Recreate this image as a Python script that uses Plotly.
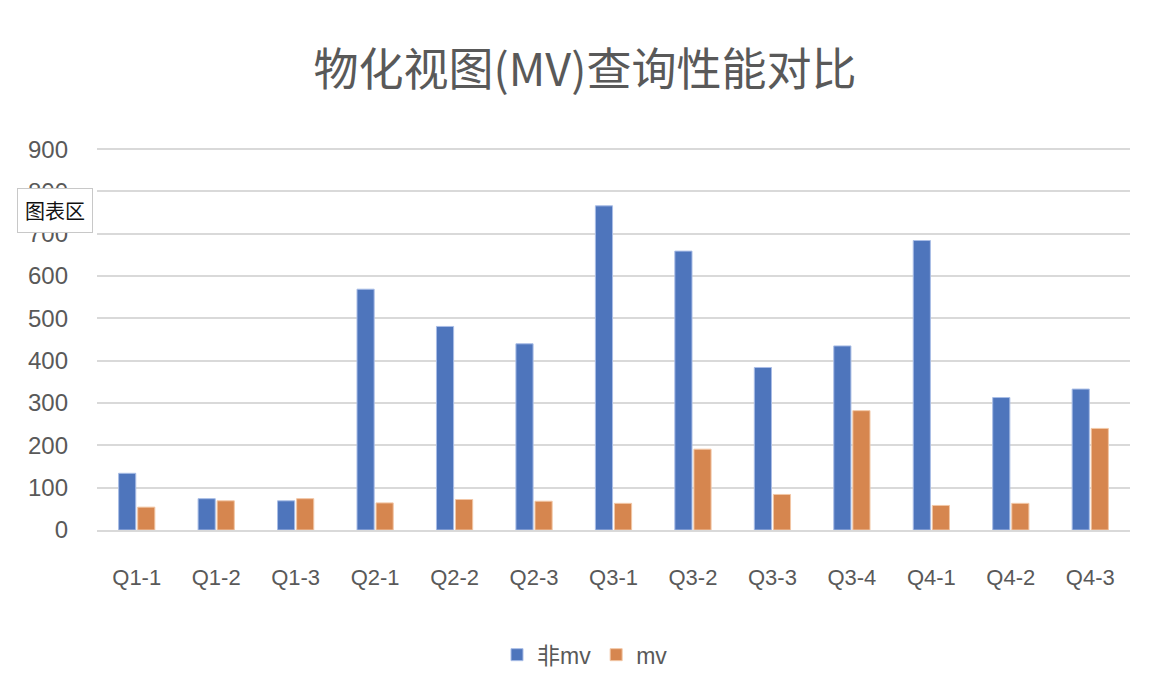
import plotly.graph_objects as go

categories = ["Q1-1", "Q1-2", "Q1-3", "Q2-1", "Q2-2", "Q2-3", "Q3-1", "Q3-2", "Q3-3", "Q3-4", "Q4-1", "Q4-2", "Q4-3"]
non_mv = [134, 74, 69, 569, 481, 440, 766, 659, 384, 435, 684, 313, 333]
mv = [54, 69, 74, 64, 72, 68, 63, 191, 84, 282, 58, 63, 240]
y_ticks = [0, 100, 200, 300, 400, 500, 600, 700, 800, 900]

font_family = "Liberation Sans, Noto Sans CJK SC, sans-serif"
grey = "#595959"

fig = go.Figure()
fig.add_trace(go.Bar(x=categories, y=non_mv, name="非mv",
                     marker=dict(color="#4E75BC", line=dict(color="#A9BDE6", width=1))))
fig.add_trace(go.Bar(x=categories, y=mv, name="mv",
                     marker=dict(color="#D6864F", line=dict(color="#F2C7A6", width=1))))

fig.update_layout(
    width=1170, height=682,
    paper_bgcolor="white", plot_bgcolor="white",
    margin=dict(l=97, r=40, t=147, b=152),
    barmode="group", bargap=0.52, bargroupgap=0.1,
    font=dict(family=font_family, color=grey),
    title=dict(text="物化视图(MV)查询性能对比", x=0.5, xref="container", xanchor="center",
               y=0.897, yref="container", yanchor="middle",
               font=dict(size=45, color=grey, family="Noto Sans CJK SC, sans-serif")),
    legend=dict(orientation="h", x=0.5, xanchor="center", xref="container",
                y=0.04, yref="container", yanchor="middle",
                font=dict(size=23, color=grey), itemwidth=30),
    showlegend=True,
    xaxis=dict(showgrid=False, showline=True, linecolor="#D9D9D9", linewidth=1.5,
               tickfont=dict(size=22, color=grey), ticks="", ticklabelstandoff=27),
    yaxis=dict(range=[0, 905], tickvals=y_ticks, showgrid=True, gridcolor="#D9D9D9",
               gridwidth=1.5, zeroline=False, showline=False,
               tickfont=dict(size=24, color=grey), ticklabelstandoff=28),
)

fig.add_annotation(text="图表区", xref="paper", yref="paper", x=-0.041, y=0.833,
                   xanchor="center", yanchor="middle", showarrow=False,
                   font=dict(size=20, color="#111111", family="Noto Sans CJK SC, sans-serif"),
                   bgcolor="white", bordercolor="#C8C8C8", borderwidth=1, borderpad=7)

fig.write_html("out.html")
